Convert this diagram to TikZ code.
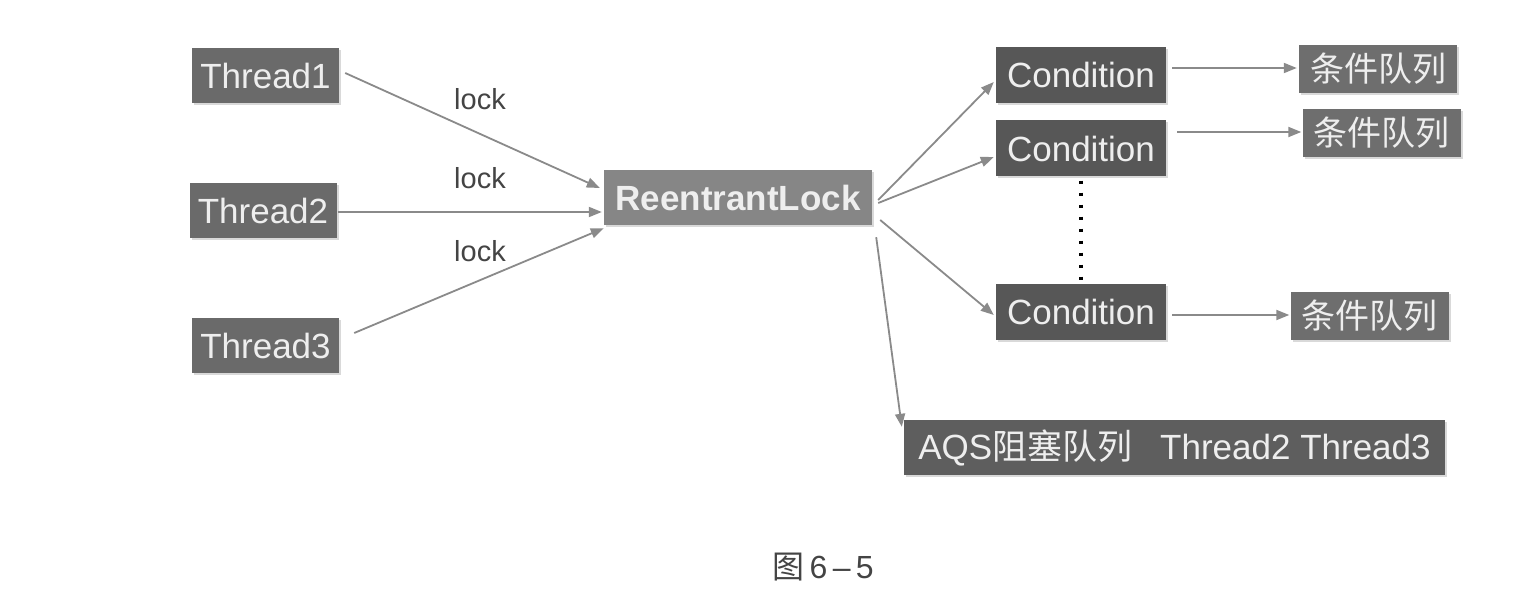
\documentclass[tikz,border=0pt]{standalone}
\usepackage{fontspec}
\setmainfont{Liberation Sans}
\newfontfamily\cjk{Noto Sans CJK SC}
\usetikzlibrary{arrows.meta,shadows}
\definecolor{threadgray}{HTML}{6A6A6A}
\definecolor{lockgray}{HTML}{868686}
\definecolor{condgray}{HTML}{575757}
\definecolor{queuegray}{HTML}{6E6E6E}
\definecolor{aqsgray}{HTML}{5E5E5E}
\definecolor{boxtext}{HTML}{EEEEEE}
\definecolor{linegray}{HTML}{8A8A8A}
\definecolor{labelgray}{HTML}{444444}
\begin{document}
\begin{tikzpicture}[x=1pt,y=-1pt,
  box/.style={inner sep=0pt, text=boxtext, font=\fontsize{35}{40}\selectfont,
    drop shadow={shadow xshift=2pt, shadow yshift=-2pt, fill=black, opacity=0.15}},
  threadbox/.style={box, fill=threadgray, minimum width=147pt, minimum height=55pt},
  lockbox/.style={box, fill=lockgray, minimum width=268pt, minimum height=55pt, font=\fontsize{35}{40}\selectfont\bfseries},
  condbox/.style={box, fill=condgray, minimum width=170pt, minimum height=56pt},
  queuebox/.style={box, fill=queuegray, minimum width=158pt, minimum height=48pt, font=\fontsize{34}{40}\selectfont\cjk},
  aqsbox/.style={box, fill=aqsgray, minimum width=541pt, minimum height=55pt},
  conn/.style={draw=linegray, line width=1.8pt, -{Triangle[length=13pt,width=10pt]}, color=linegray},
  locklabel/.style={text=labelgray, font=\fontsize{29}{32}\selectfont},
  dotline/.style={draw=black, line width=3.5pt, dash pattern=on 3.5pt off 8.5pt}
]
\useasboundingbox (0,0) rectangle (1534,604);

% left threads
\node[threadbox] (t1) at (265.5,76) {Thread1};
\node[threadbox] (t2) at (263,211) {Thread2};
\node[threadbox] (t3) at (265.5,345.5) {Thread3};

% central lock
\node[lockbox] (rl) at (738,197.5) {ReentrantLock};

% conditions
\node[condbox] (c1) at (1081,75) {Condition};
\node[condbox] (c2) at (1081,148.5) {Condition};
\node[condbox] (c3) at (1081,311.5) {Condition};

% condition queues
\node[queuebox] (q1) at (1378,69) {条件队列};
\node[queuebox] (q2) at (1381.5,133) {条件队列};
\node[queuebox] (q3) at (1369.5,316) {条件队列};

% AQS queue
\node[aqsbox] (aqs) at (1174.5,447.5) {AQS{\cjk 阻塞队列}\hspace{28pt}Thread2 Thread3};

% lock labels
\node[locklabel] (l1) at (480,99) {lock};
\node[locklabel] (l2) at (480,178) {lock};
\node[locklabel] (l3) at (480,251) {lock};

% caption
\node[text=labelgray, font=\fontsize{32}{34}\selectfont] (cap) at (823,567) {{\cjk 图}\,6\,–\,5};

% thread -> lock
\draw[conn] ([shift={(6,-3)}]t1.east) -- ([shift={(-4,-9.5)}]rl.west);
\draw[conn] ([shift={(1,1)}]t2.east) -- ([shift={(-2,14.5)}]rl.west);
\draw[conn] ([shift={(15,-12.5)}]t3.east) -- ([shift={(0,3)}]rl.south west);

% lock -> conditions
\draw[conn] ([shift={(6,2.5)}]rl.east) -- ([shift={(-2,7)}]c1.west);
\draw[conn] ([shift={(6,5.5)}]rl.east) -- ([shift={(-2,8.5)}]c2.west);
\draw[conn] ([shift={(8,22.5)}]rl.east) -- ([shift={(-2,3.5)}]c3.west);
\draw[conn] ([shift={(4,12)}]rl.south east) -- ([shift={(-2,7)}]aqs.north west);

% conditions -> queues
\draw[conn] ([shift={(6,-7)}]c1.east) -- ([shift={(-2,-1)}]q1.west);
\draw[conn] ([shift={(11,-16.5)}]c2.east) -- ([shift={(-1,-1)}]q2.west);
\draw[conn] ([shift={(6,3.5)}]c3.east) -- ([shift={(-1,-1)}]q3.west);

% dotted link between conditions
\draw[dotline] ([yshift=-4pt]c2.south) -- ([yshift=2pt]c3.north);
\end{tikzpicture}
\end{document}
